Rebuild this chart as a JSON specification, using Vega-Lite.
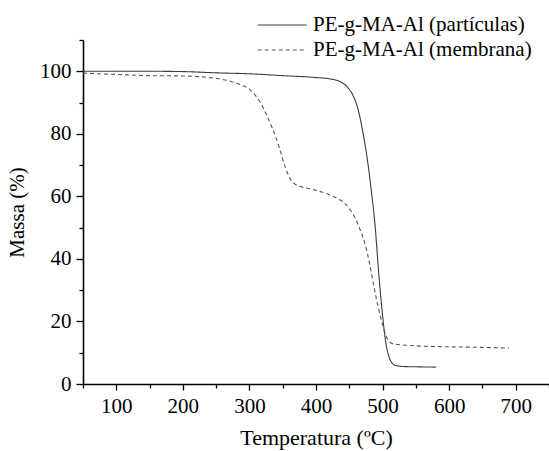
{
  "$schema": "https://vega.github.io/schema/vega-lite/v6.json",
  "width": 466,
  "height": 344,
  "autosize": {"type": "none"},
  "padding": {"left": 83, "top": 40, "right": 0, "bottom": 67},
  "background": "white",
  "config": {
    "view": {"stroke": null},
    "font": "Liberation Serif",
    "axis": {"labelFont": "Liberation Serif", "titleFont": "Liberation Serif"},
    "legend": {"labelFont": "Liberation Serif"}
  },
  "data": {
    "values": [
      {"serie": "PE-g-MA-Al (partículas)", "temp": 50, "massa": 100},
      {"serie": "PE-g-MA-Al (partículas)", "temp": 100, "massa": 100},
      {"serie": "PE-g-MA-Al (partículas)", "temp": 150, "massa": 100},
      {"serie": "PE-g-MA-Al (partículas)", "temp": 200, "massa": 99.9},
      {"serie": "PE-g-MA-Al (partículas)", "temp": 250, "massa": 99.5},
      {"serie": "PE-g-MA-Al (partículas)", "temp": 300, "massa": 99.2},
      {"serie": "PE-g-MA-Al (partículas)", "temp": 350, "massa": 98.6},
      {"serie": "PE-g-MA-Al (partículas)", "temp": 400, "massa": 98.0},
      {"serie": "PE-g-MA-Al (partículas)", "temp": 420, "massa": 97.6},
      {"serie": "PE-g-MA-Al (partículas)", "temp": 435, "massa": 96.8},
      {"serie": "PE-g-MA-Al (partículas)", "temp": 446, "massa": 95.2},
      {"serie": "PE-g-MA-Al (partículas)", "temp": 455, "massa": 92.5},
      {"serie": "PE-g-MA-Al (partículas)", "temp": 463, "massa": 88},
      {"serie": "PE-g-MA-Al (partículas)", "temp": 470, "massa": 81},
      {"serie": "PE-g-MA-Al (partículas)", "temp": 477, "massa": 72},
      {"serie": "PE-g-MA-Al (partículas)", "temp": 483, "massa": 62},
      {"serie": "PE-g-MA-Al (partículas)", "temp": 489, "massa": 50},
      {"serie": "PE-g-MA-Al (partículas)", "temp": 494, "massa": 36},
      {"serie": "PE-g-MA-Al (partículas)", "temp": 500, "massa": 22},
      {"serie": "PE-g-MA-Al (partículas)", "temp": 505, "massa": 13},
      {"serie": "PE-g-MA-Al (partículas)", "temp": 510, "massa": 8.5},
      {"serie": "PE-g-MA-Al (partículas)", "temp": 515, "massa": 6.5},
      {"serie": "PE-g-MA-Al (partículas)", "temp": 520, "massa": 5.9},
      {"serie": "PE-g-MA-Al (partículas)", "temp": 530, "massa": 5.6},
      {"serie": "PE-g-MA-Al (partículas)", "temp": 550, "massa": 5.5},
      {"serie": "PE-g-MA-Al (partículas)", "temp": 580, "massa": 5.4},
      {"serie": "PE-g-MA-Al (membrana)", "temp": 50, "massa": 99.4},
      {"serie": "PE-g-MA-Al (membrana)", "temp": 100, "massa": 99.0},
      {"serie": "PE-g-MA-Al (membrana)", "temp": 150, "massa": 98.6},
      {"serie": "PE-g-MA-Al (membrana)", "temp": 200, "massa": 98.5},
      {"serie": "PE-g-MA-Al (membrana)", "temp": 230, "massa": 98.2},
      {"serie": "PE-g-MA-Al (membrana)", "temp": 254, "massa": 97.6},
      {"serie": "PE-g-MA-Al (membrana)", "temp": 275, "massa": 96.6},
      {"serie": "PE-g-MA-Al (membrana)", "temp": 289, "massa": 95.5},
      {"serie": "PE-g-MA-Al (membrana)", "temp": 300, "massa": 94.3},
      {"serie": "PE-g-MA-Al (membrana)", "temp": 309, "massa": 92.3},
      {"serie": "PE-g-MA-Al (membrana)", "temp": 317, "massa": 89.8},
      {"serie": "PE-g-MA-Al (membrana)", "temp": 324, "massa": 86.9},
      {"serie": "PE-g-MA-Al (membrana)", "temp": 332, "massa": 83},
      {"serie": "PE-g-MA-Al (membrana)", "temp": 339, "massa": 79.4},
      {"serie": "PE-g-MA-Al (membrana)", "temp": 345, "massa": 75.5},
      {"serie": "PE-g-MA-Al (membrana)", "temp": 352, "massa": 70.5},
      {"serie": "PE-g-MA-Al (membrana)", "temp": 359, "massa": 66.6},
      {"serie": "PE-g-MA-Al (membrana)", "temp": 365, "massa": 64.5},
      {"serie": "PE-g-MA-Al (membrana)", "temp": 375, "massa": 63.3},
      {"serie": "PE-g-MA-Al (membrana)", "temp": 394, "massa": 62.3},
      {"serie": "PE-g-MA-Al (membrana)", "temp": 410, "massa": 61.3},
      {"serie": "PE-g-MA-Al (membrana)", "temp": 424, "massa": 60.2},
      {"serie": "PE-g-MA-Al (membrana)", "temp": 435, "massa": 59},
      {"serie": "PE-g-MA-Al (membrana)", "temp": 444, "massa": 57.6},
      {"serie": "PE-g-MA-Al (membrana)", "temp": 452, "massa": 55.5},
      {"serie": "PE-g-MA-Al (membrana)", "temp": 459, "massa": 53},
      {"serie": "PE-g-MA-Al (membrana)", "temp": 466, "massa": 49.5},
      {"serie": "PE-g-MA-Al (membrana)", "temp": 474, "massa": 44.5},
      {"serie": "PE-g-MA-Al (membrana)", "temp": 481, "massa": 38},
      {"serie": "PE-g-MA-Al (membrana)", "temp": 488, "massa": 30},
      {"serie": "PE-g-MA-Al (membrana)", "temp": 494, "massa": 24},
      {"serie": "PE-g-MA-Al (membrana)", "temp": 500, "massa": 19},
      {"serie": "PE-g-MA-Al (membrana)", "temp": 505, "massa": 15.5},
      {"serie": "PE-g-MA-Al (membrana)", "temp": 510, "massa": 13.6},
      {"serie": "PE-g-MA-Al (membrana)", "temp": 515, "massa": 12.9},
      {"serie": "PE-g-MA-Al (membrana)", "temp": 530, "massa": 12.5},
      {"serie": "PE-g-MA-Al (membrana)", "temp": 550, "massa": 12.2},
      {"serie": "PE-g-MA-Al (membrana)", "temp": 600, "massa": 11.9},
      {"serie": "PE-g-MA-Al (membrana)", "temp": 650, "massa": 11.7},
      {"serie": "PE-g-MA-Al (membrana)", "temp": 690, "massa": 11.5}
    ]
  },
  "mark": {"type": "line", "strokeWidth": 1.1, "clip": true, "interpolate": "monotone"},
  "encoding": {
    "x": {
      "field": "temp",
      "type": "quantitative",
      "scale": {"domain": [50, 750], "nice": false, "zero": false},
      "axis": {
        "title": "Temperatura (ºC)",
        "values": [50, 100, 150, 200, 250, 300, 350, 400, 450, 500, 550, 600, 650, 700, 750],
        "labelExpr": "datum.value % 100 === 0 && datum.value <= 700 ? datum.label : ''",
        "tickSize": {"condition": {"test": "datum.value % 100 === 0", "value": 6}, "value": 4},
        "grid": false,
        "domainColor": "black",
        "domainWidth": 1.6,
        "tickColor": "black",
        "tickWidth": 1.3,
        "labelFont": "Liberation Serif",
        "labelFontSize": 21,
        "labelColor": "black",
        "labelPadding": 5,
        "labelFlush": false,
        "labelOverlap": false,
        "titleFont": "Liberation Serif",
        "titleFontSize": 22,
        "titleFontWeight": "normal",
        "titleColor": "black",
        "titlePadding": 11
      }
    },
    "y": {
      "field": "massa",
      "type": "quantitative",
      "scale": {"domain": [0, 110], "nice": false, "zero": true},
      "axis": {
        "title": "Massa (%)",
        "values": [0, 10, 20, 30, 40, 50, 60, 70, 80, 90, 100, 110],
        "labelExpr": "datum.value % 20 === 0 && datum.value <= 100 ? datum.label : ''",
        "tickSize": {"condition": {"test": "datum.value % 20 === 0 && datum.value <= 100", "value": 7}, "value": 4},
        "grid": false,
        "domainColor": "black",
        "domainWidth": 1.6,
        "tickColor": "black",
        "tickWidth": 1.3,
        "labelFont": "Liberation Serif",
        "labelFontSize": 21,
        "labelColor": "black",
        "labelPadding": 5,
        "labelFlush": false,
        "labelOverlap": false,
        "titleFont": "Liberation Serif",
        "titleFontSize": 21,
        "titleFontWeight": "normal",
        "titleColor": "black",
        "titlePadding": 12
      }
    },
    "color": {
      "field": "serie",
      "type": "nominal",
      "scale": {"domain": ["PE-g-MA-Al (partículas)", "PE-g-MA-Al (membrana)"], "range": ["#3c3c3c", "#555555"]},
      "legend": {
        "title": null,
        "orient": "none",
        "legendX": 174,
        "legendY": -28,
        "symbolType": "M-1,0H3",
        "symbolSize": 600,
        "symbolStrokeWidth": 1.1,
        "labelFont": "Liberation Serif",
        "labelFontSize": 21,
        "labelLimit": 400,
        "labelColor": "black",
        "labelOffset": 30,
        "rowPadding": 2,
        "padding": 0
      }
    },
    "strokeDash": {
      "field": "serie",
      "type": "nominal",
      "scale": {"domain": ["PE-g-MA-Al (partículas)", "PE-g-MA-Al (membrana)"], "range": [[1, 0], [4, 3]]},
      "legend": {
        "title": null,
        "orient": "none",
        "legendX": 174,
        "legendY": -28,
        "symbolType": "M-1,0H3",
        "symbolSize": 600,
        "symbolStrokeWidth": 1.1,
        "labelFont": "Liberation Serif",
        "labelFontSize": 21,
        "labelLimit": 400,
        "labelColor": "black",
        "labelOffset": 30,
        "rowPadding": 2,
        "padding": 0
      }
    }
  }
}
